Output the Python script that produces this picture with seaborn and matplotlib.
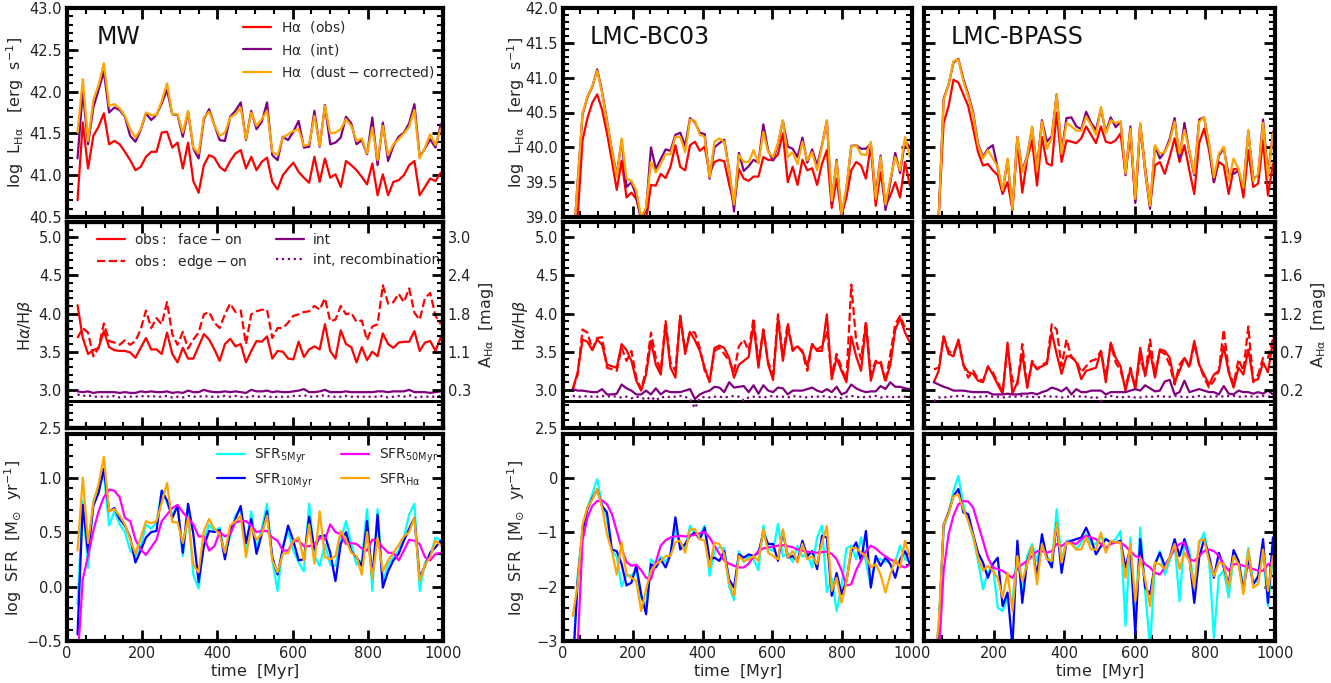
import matplotlib
matplotlib.use("Agg")
import matplotlib.pyplot as plt
from matplotlib.ticker import MultipleLocator, FixedLocator, FuncFormatter
import seaborn as sns

sns.set_theme(style="ticks")
plt.rcParams["font.family"] = ["DejaVu Sans"]
plt.rcParams["mathtext.fontset"] = "dejavusans"

# ---------------------------------------------------------------- data
time_myr = [28, 42, 56, 70, 84, 98, 112, 126, 140, 154, 168, 182, 196, 210, 224,
            238, 252, 266, 280, 294, 308, 322, 336, 350, 364, 378, 392, 406, 420,
            434, 448, 462, 476, 490, 504, 518, 532, 546, 560, 574, 588, 602, 616,
            630, 644, 658, 672, 686, 700, 714, 728, 742, 756, 770, 784, 798, 812,
            826, 840, 854, 868, 882, 896, 910, 924, 938, 952, 966, 980, 994]

# --- MW: log L_Halpha
mw_lha_obs = [40.70, 41.63, 41.08, 41.47, 41.58, 41.74, 41.37, 41.41, 41.37, 41.28,
              41.18, 41.06, 41.10, 41.22, 41.28, 41.28, 41.51, 41.52, 41.33, 41.39,
              41.08, 41.39, 40.93, 40.79, 41.12, 41.24, 41.21, 41.10, 41.05, 41.17,
              41.26, 41.30, 41.08, 41.22, 41.06, 41.16, 41.21, 40.92, 40.83, 41.00,
              41.08, 41.15, 41.04, 40.97, 40.91, 41.22, 40.92, 41.20, 40.97, 41.01,
              40.86, 41.17, 41.12, 41.06, 40.98, 40.89, 41.14, 40.76, 41.01, 40.76,
              40.92, 40.94, 41.00, 41.12, 41.17, 40.76, 40.86, 40.96, 40.93, 41.03]
mw_lha_int = [41.20, 42.00, 41.37, 41.81, 42.02, 42.24, 41.75, 41.81, 41.78, 41.70,
              41.47, 41.40, 41.54, 41.74, 41.66, 41.72, 41.86, 42.02, 41.73, 41.72,
              41.46, 41.76, 41.32, 41.20, 41.67, 41.79, 41.60, 41.42, 41.41, 41.70,
              41.77, 41.87, 41.42, 41.77, 41.55, 41.64, 41.87, 41.24, 41.18, 41.46,
              41.42, 41.52, 41.65, 41.33, 41.34, 41.77, 41.34, 41.84, 41.37, 41.39,
              41.45, 41.70, 41.62, 41.37, 41.42, 41.25, 41.69, 41.12, 41.63, 41.17,
              41.35, 41.46, 41.51, 41.62, 41.85, 41.22, 41.32, 41.43, 41.33, 41.61]
mw_lha_corr = [41.51, 42.15, 41.41, 41.90, 42.08, 42.34, 41.83, 41.85, 41.80, 41.71,
               41.55, 41.45, 41.55, 41.75, 41.72, 41.72, 41.89, 42.10, 41.73, 41.73,
               41.51, 41.77, 41.33, 41.26, 41.69, 41.76, 41.60, 41.47, 41.51, 41.69,
               41.73, 41.81, 41.43, 41.75, 41.59, 41.67, 41.77, 41.28, 41.24, 41.45,
               41.49, 41.53, 41.55, 41.35, 41.37, 41.71, 41.35, 41.83, 41.50, 41.51,
               41.55, 41.67, 41.59, 41.41, 41.44, 41.26, 41.57, 41.18, 41.59, 41.24,
               41.37, 41.43, 41.50, 41.58, 41.78, 41.20, 41.33, 41.49, 41.36, 41.56]

# --- MW: Balmer decrement
mw_bd_face = [4.11, 3.68, 3.47, 3.52, 3.55, 3.77, 3.56, 3.52, 3.51, 3.51,
              3.49, 3.42, 3.55, 3.68, 3.53, 3.53, 3.47, 3.75, 3.47, 3.36,
              3.55, 3.41, 3.41, 3.57, 3.73, 3.66, 3.53, 3.38, 3.60, 3.67,
              3.57, 3.60, 3.36, 3.51, 3.64, 3.63, 3.70, 3.41, 3.51, 3.50,
              3.41, 3.40, 3.63, 3.43, 3.53, 3.57, 3.53, 3.86, 3.51, 3.41,
              3.78, 3.60, 3.56, 3.36, 3.56, 3.39, 3.50, 3.44, 3.74, 3.60,
              3.55, 3.62, 3.63, 3.63, 3.77, 3.51, 3.62, 3.64, 3.51, 3.69]
mw_bd_edge = [3.68, 3.81, 3.75, 3.44, 3.55, 3.87, 3.64, 3.62, 3.59, 3.65,
              3.59, 3.64, 3.79, 4.04, 3.81, 3.94, 3.86, 4.15, 3.73, 3.59,
              3.76, 3.54, 3.66, 3.75, 3.99, 4.02, 3.88, 3.81, 3.99, 4.13,
              4.02, 4.04, 3.60, 3.99, 4.03, 4.05, 4.05, 3.68, 3.81, 3.81,
              3.88, 3.97, 3.99, 4.02, 4.03, 4.10, 4.05, 4.20, 3.90, 3.92,
              4.10, 3.99, 4.01, 3.89, 3.91, 3.65, 3.83, 3.86, 4.37, 4.13,
              4.15, 4.26, 4.15, 4.33, 4.01, 3.92, 4.20, 4.27, 3.97, 3.86]
mw_bd_int = [2.98, 2.97, 2.98, 2.96, 2.97, 2.97, 2.97, 2.97, 2.96, 2.97,
             2.96, 2.96, 2.98, 2.97, 2.98, 2.97, 2.97, 2.98, 2.96, 2.97,
             2.96, 2.99, 2.97, 2.97, 3.00, 2.98, 2.97, 2.97, 2.98, 2.97,
             2.98, 2.97, 2.96, 3.00, 2.98, 2.98, 2.99, 2.97, 2.98, 2.97,
             2.97, 2.98, 2.99, 3.01, 2.97, 2.97, 2.98, 3.00, 2.97, 2.97,
             2.97, 2.98, 2.97, 2.97, 2.97, 2.97, 2.97, 2.98, 2.98, 2.97,
             2.98, 2.98, 2.98, 3.00, 2.97, 2.97, 2.97, 2.96, 2.97, 2.98]
mw_bd_rec = [2.94, 2.92, 2.93, 2.91, 2.91, 2.91, 2.91, 2.92, 2.90, 2.91,
             2.91, 2.91, 2.92, 2.91, 2.92, 2.91, 2.91, 2.92, 2.90, 2.91,
             2.90, 2.92, 2.91, 2.91, 2.92, 2.91, 2.91, 2.91, 2.92, 2.91,
             2.92, 2.91, 2.90, 2.92, 2.91, 2.91, 2.92, 2.90, 2.91, 2.91,
             2.91, 2.92, 2.92, 2.93, 2.91, 2.91, 2.92, 2.93, 2.91, 2.91,
             2.91, 2.92, 2.91, 2.91, 2.91, 2.91, 2.91, 2.91, 2.92, 2.90,
             2.91, 2.92, 2.91, 2.93, 2.90, 2.91, 2.91, 2.91, 2.91, 2.92]

# --- MW: log SFR
mw_sfr5 = [-0.16, 0.79, 0.17, 0.79, 0.91, 1.03, 0.56, 0.69, 0.57, 0.50,
           0.33, 0.28, 0.36, 0.57, 0.53, 0.59, 0.88, 0.77, 0.66, 0.74,
           0.28, 0.69, 0.11, -0.02, 0.43, 0.57, 0.51, 0.54, 0.30, 0.46,
           0.65, 0.72, 0.34, 0.69, 0.34, 0.53, 0.76, 0.24, -0.04, 0.37,
           0.51, 0.33, 0.22, 0.14, 0.76, 0.28, 0.19, 0.39, 0.20, 0.19,
           0.43, 0.60, 0.39, 0.20, 0.24, 0.71, -0.04, 0.71, 0.04, 0.20,
           0.27, 0.33, 0.45, 0.66, 0.76, -0.04, 0.22, 0.28, 0.45, 0.42]
mw_sfr10 = [-0.44, 0.75, 0.31, 0.74, 0.86, 1.08, 0.69, 0.72, 0.62, 0.56,
            0.45, 0.22, 0.33, 0.45, 0.50, 0.51, 0.88, 0.79, 0.63, 0.74,
            0.31, 0.76, 0.48, 0.04, 0.37, 0.51, 0.50, 0.52, 0.25, 0.51,
            0.62, 0.74, 0.40, 0.62, 0.30, 0.48, 0.69, 0.27, 0.11, 0.35,
            0.56, 0.42, 0.24, 0.25, 0.64, 0.34, 0.46, 0.47, 0.31, 0.05,
            0.39, 0.50, 0.32, 0.27, 0.19, 0.60, 0.08, 0.66, -0.01, 0.14,
            0.24, 0.30, 0.42, 0.53, 0.63, 0.08, 0.19, 0.31, 0.36, 0.42]
mw_sfr50 = [-0.70, 0.07, 0.28, 0.51, 0.69, 0.82, 0.89, 0.88, 0.82, 0.63,
            0.60, 0.43, 0.34, 0.29, 0.36, 0.43, 0.60, 0.66, 0.72, 0.75,
            0.68, 0.63, 0.57, 0.46, 0.46, 0.33, 0.37, 0.50, 0.46, 0.48,
            0.59, 0.60, 0.60, 0.56, 0.50, 0.51, 0.51, 0.45, 0.42, 0.33,
            0.33, 0.42, 0.42, 0.37, 0.37, 0.39, 0.45, 0.43, 0.57, 0.50,
            0.48, 0.39, 0.40, 0.39, 0.35, 0.33, 0.43, 0.42, 0.36, 0.31,
            0.31, 0.24, 0.33, 0.43, 0.42, 0.39, 0.27, 0.24, 0.30, 0.31]
mw_sfrha = [0.33, 1.00, 0.40, 0.77, 0.94, 1.19, 0.69, 0.71, 0.65, 0.57,
            0.43, 0.30, 0.45, 0.60, 0.58, 0.60, 0.77, 0.95, 0.59, 0.59,
            0.40, 0.63, 0.20, 0.13, 0.51, 0.62, 0.53, 0.48, 0.31, 0.56,
            0.60, 0.65, 0.27, 0.54, 0.43, 0.48, 0.65, 0.24, 0.13, 0.30,
            0.31, 0.42, 0.45, 0.24, 0.57, 0.21, 0.69, 0.27, 0.25, 0.28,
            0.51, 0.43, 0.31, 0.28, 0.11, 0.50, 0.07, 0.45, 0.14, 0.24,
            0.31, 0.38, 0.46, 0.50, 0.63, 0.05, 0.20, 0.27, 0.42, 0.38]

# --- LMC-BC03: log L_Halpha
bc_lha_obs = [38.50, 39.00, 40.10, 40.42, 40.64, 40.76, 40.54, 40.20, 39.81, 39.39,
              39.81, 39.28, 39.35, 39.26, 38.99, 38.94, 39.46, 39.45, 39.62, 39.56,
              39.72, 40.03, 39.72, 39.67, 40.03, 40.08, 39.95, 40.01, 39.62, 39.79,
              39.82, 39.80, 39.47, 39.18, 39.69, 39.55, 39.52, 39.58, 39.58, 39.86,
              39.82, 39.82, 39.90, 40.20, 39.50, 39.72, 39.46, 39.82, 39.67, 39.70,
              39.46, 39.76, 39.96, 39.13, 39.55, 39.02, 39.28, 39.67, 39.79, 39.74,
              39.55, 40.03, 39.16, 39.64, 39.15, 39.31, 39.50, 39.28, 39.79, 39.45]
bc_lha_int = [38.50, 39.50, 40.47, 40.72, 40.87, 41.12, 40.80, 40.38, 39.96, 39.60,
              40.10, 39.43, 39.50, 39.30, 38.95, 39.10, 40.00, 39.69, 39.83, 39.97,
              39.95, 40.18, 40.21, 40.02, 40.42, 40.36, 40.21, 40.19, 39.55, 40.00,
              40.06, 40.11, 39.68, 39.08, 39.92, 39.66, 39.73, 39.82, 39.78, 40.33,
              39.95, 39.81, 40.05, 40.38, 40.01, 39.98, 39.86, 40.14, 39.78, 39.97,
              39.74, 40.03, 40.38, 39.20, 39.82, 39.00, 39.40, 40.02, 40.03, 39.98,
              39.98, 40.05, 39.30, 39.88, 39.10, 39.50, 39.92, 39.63, 40.10, 40.00]
bc_lha_corr = [38.50, 39.50, 40.49, 40.73, 40.88, 41.10, 40.78, 40.37, 39.96, 39.57,
               40.13, 39.55, 39.52, 39.38, 38.99, 39.14, 39.79, 39.64, 39.76, 39.90,
               39.90, 40.15, 40.15, 39.93, 40.40, 40.38, 40.18, 40.15, 39.57, 40.08,
               40.13, 40.08, 39.67, 39.18, 39.89, 39.79, 39.79, 39.96, 39.77, 40.22,
               39.93, 39.86, 40.06, 40.39, 39.86, 39.93, 39.76, 40.08, 39.81, 39.93,
               39.67, 40.01, 40.39, 39.23, 39.80, 39.04, 39.43, 40.01, 40.03, 39.90,
               39.89, 40.08, 39.26, 39.86, 39.18, 39.55, 39.86, 39.67, 40.15, 39.86]

# --- LMC-BC03: Balmer decrement
bc_bd_face = [3.01, 3.23, 3.66, 3.63, 3.52, 3.66, 3.59, 3.33, 3.31, 3.29,
              3.60, 3.52, 3.38, 3.12, 2.99, 3.20, 3.64, 3.33, 3.20, 3.86,
              3.29, 3.16, 3.97, 3.47, 3.76, 3.65, 3.51, 3.29, 3.10, 3.55,
              3.58, 3.55, 3.42, 3.16, 3.33, 3.38, 3.43, 3.86, 3.29, 3.79,
              3.33, 3.13, 3.94, 3.38, 3.81, 3.53, 3.57, 3.51, 3.31, 3.60,
              3.51, 3.51, 3.99, 3.14, 3.42, 3.25, 3.10, 3.70, 3.44, 3.25,
              3.86, 3.12, 3.36, 3.35, 3.12, 3.33, 3.79, 3.94, 3.75, 3.62]
bc_bd_edge = [3.01, 3.20, 3.79, 3.75, 3.53, 3.68, 3.69, 3.29, 3.27, 3.25,
              3.55, 3.38, 3.51, 3.16, 3.01, 3.25, 3.75, 3.42, 3.25, 3.90,
              3.36, 3.25, 3.97, 3.51, 3.77, 3.75, 3.55, 3.25, 3.12, 3.51,
              3.55, 3.47, 3.38, 3.23, 3.57, 3.66, 3.51, 3.94, 3.36, 3.79,
              3.36, 3.20, 3.99, 3.44, 3.88, 3.51, 3.57, 3.49, 3.25, 3.60,
              3.53, 3.57, 3.77, 3.20, 3.47, 3.29, 3.12, 4.38, 3.64, 3.40,
              3.90, 3.20, 3.38, 3.38, 3.10, 3.47, 3.86, 3.97, 3.81, 3.79]
bc_bd_int = [3.01, 2.99, 2.99, 2.98, 2.97, 2.97, 3.01, 2.94, 2.94, 2.95,
             3.07, 3.02, 2.99, 2.94, 2.94, 2.99, 2.94, 3.02, 2.94, 2.99,
             2.97, 2.97, 2.97, 2.99, 3.01, 2.88, 2.94, 2.97, 2.99, 3.04,
             3.03, 2.97, 3.10, 3.03, 3.04, 3.05, 2.97, 3.06, 2.95, 3.06,
             2.99, 2.97, 3.03, 3.02, 2.94, 2.99, 2.99, 2.99, 3.01, 3.03,
             2.99, 2.97, 3.01, 2.97, 3.04, 2.94, 2.97, 3.07, 3.02, 2.99,
             2.97, 2.98, 2.98, 3.05, 3.01, 3.10, 3.04, 3.04, 3.02, 3.01]
bc_bd_rec = [2.92, 2.91, 2.91, 2.92, 2.91, 2.91, 2.92, 2.91, 2.92, 2.91,
             2.90, 2.91, 2.89, 2.91, 2.90, 2.87, 2.91, 2.86, 2.91, 2.90,
             2.91, 2.91, 2.92, 2.91, 2.88, 2.76, 2.89, 2.91, 2.90, 2.91,
             2.91, 2.90, 2.91, 2.92, 2.91, 2.86, 2.90, 2.91, 2.91, 2.90,
             2.91, 2.92, 2.91, 2.91, 2.90, 2.92, 2.91, 2.91, 2.90, 2.91,
             2.91, 2.92, 2.91, 2.90, 2.91, 2.89, 2.91, 2.92, 2.91, 2.90,
             2.91, 2.91, 2.92, 2.90, 2.91, 2.91, 2.90, 2.91, 2.91, 2.92]

# --- LMC-BC03: log SFR
bc_sfr5 = [-3.50, -1.80, -0.95, -0.55, -0.30, -0.03, -0.50, -0.75, -1.35, -1.45,
           -2.00, -1.78, -1.80, -1.70, -2.20, -2.35, -1.50, -1.60, -1.45, -1.55,
           -1.40, -0.95, -1.20, -1.30, -0.88, -1.05, -1.05, -0.88, -1.80, -1.35,
           -1.28, -1.30, -2.00, -2.25, -1.35, -1.55, -1.45, -1.50, -1.70, -0.88,
           -1.30, -1.35, -0.85, -1.45, -1.38, -1.55, -1.25, -1.45, -1.40, -1.65,
           -1.10, -0.88, -2.10, -1.85, -2.45, -2.00, -1.30, -1.25, -1.50, -1.10,
           -1.55, -2.00, -1.50, -1.50, -1.55, -1.50, -1.55, -1.25, -1.50, -1.55]
bc_sfr10 = [-3.50, -1.90, -0.98, -0.58, -0.38, -0.22, -0.52, -0.64, -1.32, -1.35,
            -1.59, -1.98, -1.93, -1.62, -2.14, -2.51, -1.59, -1.65, -1.50, -1.65,
            -1.41, -0.73, -1.32, -1.22, -1.07, -1.01, -1.13, -0.92, -1.50, -1.47,
            -1.53, -1.35, -1.87, -2.02, -1.41, -1.47, -1.41, -1.44, -1.38, -1.01,
            -1.22, -1.22, -1.53, -0.98, -1.47, -1.44, -1.53, -1.16, -1.44, -1.35,
            -1.68, -1.07, -1.10, -2.17, -1.75, -2.14, -1.90, -1.35, -1.19, -1.53,
            -0.98, -2.02, -1.44, -1.62, -1.47, -1.59, -1.84, -1.50, -1.35, -1.59]
bc_sfr50 = [-3.60, -3.10, -1.16, -0.73, -0.52, -0.43, -0.42, -0.49, -0.67, -0.98,
            -1.30, -1.55, -1.62, -1.60, -1.70, -1.84, -1.87, -1.55, -1.25, -1.15,
            -1.10, -1.08, -1.07, -1.08, -1.07, -1.05, -1.02, -1.00, -1.10, -1.25,
            -1.40, -1.52, -1.58, -1.62, -1.65, -1.65, -1.58, -1.45, -1.35, -1.30,
            -1.28, -1.27, -1.25, -1.24, -1.26, -1.28, -1.32, -1.34, -1.36, -1.37,
            -1.38, -1.37, -1.36, -1.40, -1.50, -1.70, -1.98, -1.96, -1.70, -1.52,
            -1.35, -1.25, -1.30, -1.38, -1.45, -1.50, -1.55, -1.62, -1.65, -1.60]
bc_sfrha = [-2.54, -1.96, -0.86, -0.55, -0.40, -0.21, -0.55, -1.04, -1.35, -1.78,
            -1.19, -1.78, -1.84, -1.90, -2.45, -2.05, -1.71, -1.59, -1.53, -1.44,
            -1.44, -1.19, -1.16, -1.38, -0.95, -0.95, -1.13, -1.16, -1.65, -1.19,
            -1.22, -1.41, -1.93, -2.17, -1.44, -1.53, -1.50, -1.44, -1.53, -0.95,
            -1.38, -1.44, -1.50, -0.95, -1.47, -1.35, -1.56, -1.22, -1.50, -1.44,
            -1.59, -1.19, -0.89, -2.08, -1.84, -2.30, -1.93, -1.29, -1.29, -1.38,
            -1.44, -1.65, -1.59, -1.78, -2.11, -1.78, -1.50, -1.65, -1.16, -1.47]

# --- LMC-BPASS: log L_Halpha
bp_lha_obs = [38.50, 39.04, 40.35, 40.59, 40.97, 40.93, 40.76, 40.59, 40.27, 39.93,
              39.74, 39.76, 39.67, 39.60, 39.33, 39.50, 39.11, 40.10, 39.35, 39.84,
              40.10, 39.45, 40.15, 39.77, 39.74, 40.50, 39.79, 40.10, 40.08, 40.06,
              40.13, 40.30, 40.18, 40.06, 40.30, 40.08, 40.06, 40.10, 40.20, 39.62,
              40.18, 39.23, 40.32, 39.72, 39.16, 39.74, 39.79, 39.62, 39.86, 40.13,
              39.79, 40.03, 39.67, 39.33, 40.06, 40.27, 39.96, 39.50, 39.79, 39.74,
              39.33, 39.69, 39.68, 39.28, 39.96, 39.43, 39.48, 40.10, 39.31, 39.76]
bp_lha_int = [38.50, 39.00, 40.70, 40.90, 41.22, 41.27, 40.98, 40.76, 40.50, 40.05,
              39.86, 39.98, 40.03, 39.70, 39.36, 39.82, 39.10, 40.15, 39.66, 39.88,
              40.28, 39.70, 40.39, 40.08, 40.16, 40.76, 39.93, 40.42, 40.43, 40.30,
              40.26, 40.51, 40.35, 40.25, 40.55, 40.22, 40.43, 40.29, 40.37, 39.60,
              40.30, 39.20, 40.33, 39.65, 39.12, 40.02, 39.84, 39.94, 40.12, 40.42,
              39.84, 40.35, 39.93, 39.60, 40.40, 40.43, 40.03, 39.50, 39.88, 39.99,
              39.60, 39.62, 39.66, 39.43, 40.23, 39.55, 39.60, 40.40, 39.60, 40.22]
bp_lha_corr = [38.50, 38.99, 40.68, 40.90, 41.24, 41.26, 40.95, 40.73, 40.47, 40.03,
               39.84, 39.96, 39.84, 39.72, 39.38, 39.84, 39.11, 40.15, 39.64, 39.86,
               40.30, 39.67, 40.37, 39.98, 40.13, 40.76, 39.91, 40.35, 40.30, 40.24,
               40.24, 40.44, 40.32, 40.18, 40.58, 40.20, 40.39, 40.35, 40.37, 39.62,
               40.27, 39.26, 40.35, 39.67, 39.16, 40.03, 39.91, 39.93, 40.08, 40.37,
               39.91, 40.25, 39.96, 39.62, 40.37, 40.43, 40.06, 39.57, 39.91, 40.01,
               39.52, 39.84, 39.69, 39.42, 40.25, 39.52, 39.62, 40.35, 39.57, 40.20]

# --- LMC-BPASS: Balmer decrement
bp_bd_face = [3.10, 3.25, 3.70, 3.47, 3.44, 3.66, 3.33, 3.23, 3.21, 3.12,
              3.10, 3.31, 3.20, 3.07, 2.95, 3.62, 2.95, 3.10, 3.47, 3.03,
              3.36, 3.27, 3.31, 3.34, 3.75, 3.47, 3.21, 3.44, 3.44, 3.36,
              3.14, 3.25, 3.27, 3.29, 3.51, 3.10, 3.62, 3.42, 3.31, 2.99,
              3.27, 3.01, 3.55, 3.18, 3.51, 3.16, 3.53, 3.51, 3.42, 3.10,
              3.25, 3.42, 3.31, 3.64, 3.33, 3.20, 3.07, 3.20, 3.25, 3.57,
              3.23, 3.03, 3.29, 3.20, 3.53, 3.12, 3.14, 3.36, 3.23, 3.64]
bp_bd_edge = [3.27, 3.29, 3.70, 3.51, 3.47, 3.64, 3.33, 3.16, 3.25, 3.14,
              3.12, 3.29, 3.23, 3.10, 2.97, 3.55, 3.12, 3.07, 3.60, 3.03,
              3.38, 3.27, 3.33, 3.36, 3.86, 3.79, 3.31, 3.66, 3.42, 3.38,
              3.23, 3.31, 3.38, 3.40, 3.51, 3.16, 3.60, 3.36, 3.25, 3.03,
              3.29, 3.03, 3.42, 3.20, 3.66, 3.20, 3.51, 3.47, 3.33, 3.07,
              3.33, 3.42, 3.29, 3.60, 3.33, 3.16, 3.03, 3.12, 3.25, 3.79,
              3.25, 3.07, 3.40, 3.25, 3.83, 3.10, 3.20, 3.42, 3.42, 3.66]
bp_bd_int = [3.10, 3.07, 3.04, 3.02, 2.99, 2.99, 2.99, 2.98, 2.97, 2.97,
             2.97, 2.97, 2.94, 2.94, 2.94, 2.95, 2.94, 2.94, 2.95, 2.95,
             2.96, 2.94, 2.97, 2.99, 3.03, 3.01, 2.98, 3.03, 2.94, 3.01,
             2.97, 2.97, 2.99, 2.99, 2.99, 2.94, 2.97, 2.97, 2.97, 2.97,
             2.99, 3.01, 2.99, 3.06, 3.02, 2.98, 2.99, 3.11, 3.13, 2.94,
             2.97, 3.12, 2.97, 2.99, 3.01, 2.99, 2.97, 2.97, 2.94, 3.05,
             2.95, 2.94, 2.99, 2.97, 2.97, 2.95, 2.97, 2.95, 2.99, 2.94]
bp_bd_rec = [2.85, 2.90, 2.90, 2.91, 2.91, 2.92, 2.92, 2.91, 2.90, 2.91,
             2.91, 2.92, 2.91, 2.91, 2.90, 2.91, 2.91, 2.91, 2.92, 2.91,
             2.91, 2.90, 2.91, 2.92, 2.91, 2.91, 2.90, 2.91, 2.91, 2.92,
             2.91, 2.91, 2.90, 2.91, 2.85, 2.91, 2.92, 2.91, 2.90, 2.91,
             2.91, 2.90, 2.90, 2.91, 2.91, 2.91, 2.92, 2.91, 2.91, 2.92,
             2.91, 2.91, 2.90, 2.91, 2.92, 2.91, 2.91, 2.91, 2.92, 2.91,
             2.92, 2.92, 2.91, 2.91, 2.92, 2.91, 2.91, 2.92, 2.91, 2.92]

# --- LMC-BPASS: log SFR
bp_sfr5 = [-3.60, -2.69, -0.92, -0.67, -0.24, 0.03, -0.49, -0.80, -1.10, -1.53,
           -2.05, -1.75, -1.59, -2.39, -2.45, -2.20, -2.27, -1.35, -2.14, -1.44,
           -1.22, -1.53, -1.13, -1.44, -1.59, -0.58, -1.53, -1.16, -1.16, -1.32,
           -1.19, -1.04, -1.22, -1.22, -1.10, -1.13, -1.19, -1.13, -0.98, -2.72,
           -1.10, -2.57, -0.92, -2.08, -3.12, -1.59, -1.35, -1.78, -1.53, -1.22,
           -2.27, -1.13, -1.35, -2.02, -1.22, -1.01, -1.47, -2.94, -1.81, -1.71,
           -2.20, -1.44, -1.53, -1.99, -1.29, -1.93, -1.90, -1.35, -2.36, -1.44]
bp_sfr10 = [-3.60, -2.82, -0.86, -0.64, -0.34, -0.21, -0.64, -0.67, -1.04, -1.38,
            -1.56, -1.84, -1.59, -1.47, -2.36, -2.11, -3.10, -1.16, -2.30, -1.53,
            -1.29, -1.81, -1.04, -1.47, -1.65, -0.83, -1.75, -1.19, -1.16, -1.13,
            -1.10, -0.92, -1.13, -1.41, -1.26, -1.13, -1.19, -1.19, -1.16, -1.65,
            -1.29, -2.88, -1.13, -2.02, -2.14, -1.59, -1.38, -1.62, -1.47, -1.13,
            -1.44, -1.13, -1.47, -2.30, -1.47, -1.13, -1.44, -1.84, -1.38, -1.65,
            -1.96, -1.33, -1.53, -2.08, -1.47, -1.96, -1.81, -1.13, -2.30, -1.10]
bp_sfr50 = [-3.60, -3.30, -1.71, -1.04, -0.70, -0.49, -0.43, -0.44, -0.55, -0.86,
            -1.16, -1.47, -1.65, -1.68, -1.71, -1.78, -1.84, -1.68, -1.59, -1.53,
            -1.44, -1.35, -1.35, -1.38, -1.35, -1.22, -1.26, -1.19, -1.19, -1.22,
            -1.13, -1.07, -1.10, -1.13, -1.22, -1.29, -1.22, -1.19, -1.19, -1.26,
            -1.35, -1.44, -1.47, -1.59, -1.65, -1.75, -1.78, -1.65, -1.47, -1.32,
            -1.22, -1.19, -1.50, -1.53, -1.44, -1.35, -1.32, -1.35, -1.44, -1.59,
            -1.71, -1.59, -1.59, -1.62, -1.65, -1.68, -1.71, -1.71, -1.59, -1.56]
bp_sfrha = [-3.50, -2.69, -0.86, -0.67, -0.34, -0.31, -0.58, -0.80, -1.07, -1.47,
            -1.71, -1.62, -1.71, -1.84, -2.20, -1.75, -2.45, -1.44, -1.90, -1.59,
            -1.26, -1.96, -1.22, -1.50, -1.53, -0.83, -1.56, -1.19, -1.22, -1.32,
            -1.32, -1.10, -1.32, -1.32, -1.01, -1.38, -1.16, -1.19, -1.19, -1.84,
            -1.22, -2.27, -1.47, -1.87, -2.36, -1.56, -1.59, -1.68, -1.47, -1.22,
            -1.68, -1.38, -1.53, -2.02, -1.16, -1.13, -1.53, -1.81, -1.56, -1.59,
            -2.02, -1.44, -1.59, -2.14, -1.32, -2.02, -1.96, -1.32, -2.08, -1.44]

# intrinsic (case B) Balmer decrement
BD_CASE_B = 2.86

# A_Halpha labels placed at the Balmer-decrement major ticks
bd_ticks = [3.0, 3.5, 4.0, 4.5, 5.0]
mw_aha_labels = ["0.3", "1.1", "1.8", "2.4", "3.0"]
bp_aha_labels = ["0.2", "0.7", "1.2", "1.6", "1.9"]

panel_names = ["MW", "LMC-BC03", "LMC-BPASS"]

# ---------------------------------------------------------------- layout
W, H = 1331, 683
fig = plt.figure(figsize=(W / 100, H / 100), dpi=100)

col_px = [(67, 443), (563, 912), (924, 1275)]
row_px = [(8, 217), (222, 428), (434, 641)]
# x position (pixels) of the y-label anchor for [row][column]
ylabel_px = [(26, 527), (35, 530), (24, 527)]
LABEL_FS = 11.5
TICK_FS = 10.5


def make_ax(r, c):
    x0, x1 = col_px[c]
    y0, y1 = row_px[r]
    return fig.add_axes([x0 / W, 1 - y1 / H, (x1 - x0) / W, (y1 - y0) / H])


def place_ylabel(ax, r, c):
    x0, x1 = col_px[c]
    ax.yaxis.set_label_coords((ylabel_px[r][c] - x0) / (x1 - x0), 0.5)


def set_ticks(ax):
    ax.tick_params(which="both", direction="in", labelsize=TICK_FS,
                   colors="black", labelcolor="#222222")
    ax.tick_params(which="major", length=8, width=2)
    ax.tick_params(which="minor", length=4, width=1.5)
    for s in ax.spines.values():
        s.set_linewidth(3)
        s.set_color("black")


def style(ax, ymaj, ymin, xlab=False, ylab=True):
    ax.set_xlim(0, 1000)
    ax.xaxis.set_major_locator(MultipleLocator(200))
    ax.xaxis.set_minor_locator(MultipleLocator(50))
    ax.yaxis.set_major_locator(MultipleLocator(ymaj))
    ax.yaxis.set_minor_locator(MultipleLocator(ymin))
    set_ticks(ax)
    ax.tick_params(which="both", top=True, right=True)
    ax.tick_params(labelbottom=xlab, labelleft=ylab)
    ax.grid(False)


def add_extinction_axis(ax, labels):
    tw = ax.twinx()
    tw.set_ylim(ax.get_ylim())
    tw.yaxis.set_major_locator(FixedLocator(bd_ticks))
    tw.set_yticklabels(labels)
    tw.yaxis.set_minor_locator(MultipleLocator(0.1))
    set_ticks(tw)
    tw.set_ylabel(r"$\mathrm{A_{H\alpha}\ \ [mag]}$", fontsize=LABEL_FS, labelpad=4)
    return tw


LW = 1.6
lha_sets = [(mw_lha_obs, mw_lha_int, mw_lha_corr),
            (bc_lha_obs, bc_lha_int, bc_lha_corr),
            (bp_lha_obs, bp_lha_int, bp_lha_corr)]
bd_sets = [(mw_bd_face, mw_bd_edge, mw_bd_int, mw_bd_rec),
           (bc_bd_face, bc_bd_edge, bc_bd_int, bc_bd_rec),
           (bp_bd_face, bp_bd_edge, bp_bd_int, bp_bd_rec)]
sfr_sets = [(mw_sfr5, mw_sfr10, mw_sfr50, mw_sfrha),
            (bc_sfr5, bc_sfr10, bc_sfr50, bc_sfrha),
            (bp_sfr5, bp_sfr10, bp_sfr50, bp_sfrha)]

lha_labels = [r"$\mathrm{H\alpha\ \ (obs)}$", r"$\mathrm{H\alpha\ \ (int)}$",
              r"$\mathrm{H\alpha\ \ (dust-corrected)}$"]
bd_labels = [r"$\mathrm{obs:\ \ face-on}$", r"$\mathrm{obs:\ \ edge-on}$",
             "int", "int, recombination"]
sfr_labels = [r"$\mathrm{SFR_{5Myr}}$", r"$\mathrm{SFR_{10Myr}}$",
              r"$\mathrm{SFR_{50Myr}}$", r"$\mathrm{SFR_{H\alpha}}$"]

for c in range(3):
    first = c == 0

    # ---- top row: H-alpha luminosity
    ax = make_ax(0, c)
    obs, intr, corr = lha_sets[c]
    for y, col, lab in zip((obs, intr, corr), ("red", "purple", "orange"), lha_labels):
        sns.lineplot(x=time_myr, y=y, ax=ax, color=col, lw=LW,
                     label=lab if first else None, legend=False)
    ax.set_ylim((40.5, 43.0) if first else (39.0, 42.0))
    style(ax, 0.5, 0.1, ylab=(c < 2))
    ax.text(0.08 if first else 0.077, 0.86, panel_names[c], transform=ax.transAxes,
            fontsize=17, va="center", ha="left", color="#111111")
    if c < 2:
        ax.set_ylabel(r"$\mathrm{log\ \ L_{H\alpha}\ \ \ [erg\ \ s^{-1}]}$",
                      fontsize=LABEL_FS)
        place_ylabel(ax, 0, c)
    else:
        ax.set_ylabel("")
    ax.set_xlabel("")
    if first:
        h, l = ax.get_legend_handles_labels()
        ax.legend(h, l, loc="upper right", bbox_to_anchor=(0.993, 0.972),
                  borderaxespad=0, frameon=False, fontsize=10, handlelength=2.0,
                  handletextpad=0.7, labelspacing=0.45)

    # ---- middle row: Balmer decrement
    ax = make_ax(1, c)
    face, edge, intr, rec = bd_sets[c]
    styles = [("red", "-", face), ("red", "--", edge),
              ("purple", "-", intr), ("purple", ":", rec)]
    for (col, ls, y), lab in zip(styles, bd_labels):
        sns.lineplot(x=time_myr, y=y, ax=ax, color=col, lw=LW, linestyle=ls,
                     label=lab if first else None, legend=False)
    ax.axhline(BD_CASE_B, color="black", lw=2.2, zorder=1)
    ax.set_ylim(2.5, 5.2)
    style(ax, 0.5, 0.1, ylab=(c < 2))
    if c < 2:
        ax.set_ylabel(r"H$\alpha$/H$\beta$", fontsize=LABEL_FS)
        place_ylabel(ax, 1, c)
    else:
        ax.set_ylabel("")
    ax.set_xlabel("")
    if first:
        h, l = ax.get_legend_handles_labels()
        ax.legend(h, l, loc="upper left", bbox_to_anchor=(0.065, 0.98),
                  borderaxespad=0, frameon=False, fontsize=10, ncol=2,
                  handlelength=2.0, handletextpad=0.7, columnspacing=2.0,
                  labelspacing=0.45)
    if c == 0:
        add_extinction_axis(ax, mw_aha_labels)
    elif c == 2:
        add_extinction_axis(ax, bp_aha_labels)

    # ---- bottom row: star formation rate
    ax = make_ax(2, c)
    s5, s10, s50, sha = sfr_sets[c]
    for y, col, lab in zip((s5, s10, s50, sha),
                           ("cyan", "blue", "magenta", "orange"), sfr_labels):
        sns.lineplot(x=time_myr, y=y, ax=ax, color=col, lw=LW,
                     label=lab if first else None, legend=False)
    if first:
        ax.set_ylim(-0.5, 1.4)
        style(ax, 0.5, 0.1, xlab=True)
    else:
        ax.set_ylim(-3.0, 0.8)
        style(ax, 1.0, 0.2, xlab=True, ylab=(c < 2))
    if c == 2:
        # the neighbouring panel already shows 1000 at this position
        ax.xaxis.set_major_formatter(
            FuncFormatter(lambda v, p: "" if abs(v) < 1e-6 else f"{v:.0f}"))
    if c < 2:
        ax.set_ylabel(r"$\mathrm{log\ \ SFR\ \ [M_{\odot}\ \ yr^{-1}]}$",
                      fontsize=LABEL_FS)
        place_ylabel(ax, 2, c)
    else:
        ax.set_ylabel("")
    ax.set_xlabel(r"$\mathrm{time\ \ [Myr]}$", fontsize=LABEL_FS, labelpad=1)
    if first:
        h, l = ax.get_legend_handles_labels()
        ax.legend(h, l, loc="upper left", bbox_to_anchor=(0.384, 0.965),
                  borderaxespad=0, frameon=False, fontsize=10, ncol=2,
                  handlelength=2.0, handletextpad=0.7, columnspacing=2.0,
                  labelspacing=0.45)

fig.savefig("out.png", dpi=100)
